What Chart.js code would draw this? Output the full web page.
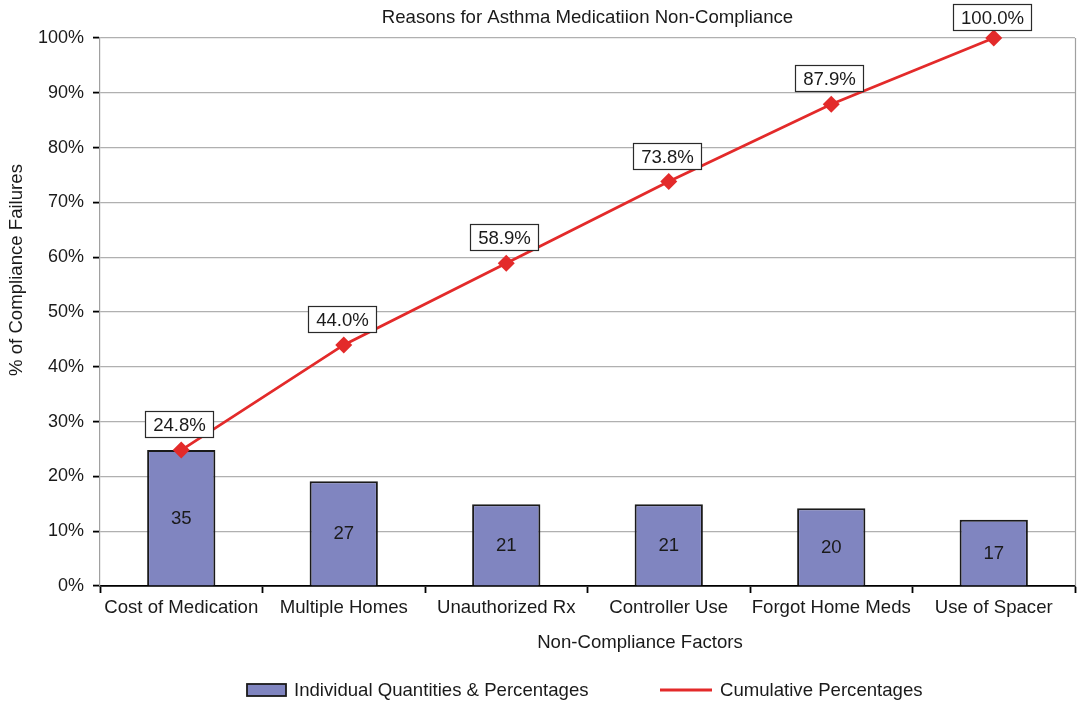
<!DOCTYPE html>
<html>
<head>
<meta charset="utf-8">
<script src="https://cdn.jsdelivr.net/npm/chart.js@4/dist/chart.umd.min.js"></script>
<style>
  html, body { margin: 0; padding: 0; background: #fff; }
  #wrap { width: 1080px; height: 704px; }
</style>
</head>
<body>
<div id="wrap"><canvas id="c" width="1080" height="704"></canvas></div>
<script>
const chartTitle = 'Reasons for Asthma Medicatiion Non-Compliance';
const categories = ['Cost of Medication', 'Multiple Homes', 'Unauthorized Rx', 'Controller Use', 'Forgot Home Meds', 'Use of Spacer'];
const counts = [35, 27, 21, 21, 20, 17];
const sharePct = [24.8, 19.1, 14.9, 14.9, 14.2, 12.1];
const cumulativePct = [24.8, 44.0, 58.9, 73.8, 87.9, 100.0];
const yTickValues = [0, 10, 20, 30, 40, 50, 60, 70, 80, 90, 100];
const xAxisTitle = 'Non-Compliance Factors';
const yAxisTitle = '% of Compliance Failures';
const barLegend = 'Individual Quantities & Percentages';
const lineLegend = 'Cumulative Percentages';

const FONT = '"Liberation Sans", Arial, Helvetica, sans-serif';
const SIZE = 18.6;
const TEXT = '#1a1a1a';
const BAR_FILL = '#8085c0';
const BAR_EDGE = '#1a1a1a';
const RED = '#e32a2a';

// Text, value boxes, right frame line and legend drawn on top of the chart
const decorations = {
  id: 'decorations',
  afterDatasetsDraw(chart) {
    const ctx = chart.ctx;
    const area = chart.chartArea;
    ctx.save();

    // right-hand frame of the plot area
    ctx.strokeStyle = '#a0a0a0';
    ctx.lineWidth = 1.2;
    ctx.beginPath();
    ctx.moveTo(area.right + 0.5, area.top);
    ctx.lineTo(area.right + 0.5, area.bottom);
    ctx.stroke();

    // counts inside the bars
    ctx.fillStyle = TEXT;
    ctx.font = SIZE + 'px ' + FONT;
    ctx.textAlign = 'center';
    ctx.textBaseline = 'middle';
    chart.getDatasetMeta(0).data.forEach((bar, i) => {
      const mid = (bar.y + bar.base) / 2;
      ctx.fillText(String(counts[i]), bar.x, mid + 1);
    });

    // boxed cumulative values above the line points
    chart.getDatasetMeta(1).data.forEach((pt, i) => {
      const label = cumulativePct[i].toFixed(1) + '%';
      const w = Math.round(ctx.measureText(label).width + 15);
      const h = 26;
      const cx = Math.round(pt.x - 2);
      const bottom = Math.max(Math.round(pt.y - 13), h + 4);
      const left = Math.round(cx - w / 2);
      ctx.fillStyle = '#ffffff';
      ctx.fillRect(left, bottom - h, w, h);
      ctx.strokeStyle = '#2a2a2a';
      ctx.lineWidth = 1.2;
      ctx.strokeRect(left + 0.5, bottom - h + 0.5, w, h);
      ctx.fillStyle = TEXT;
      ctx.fillText(label, cx + 0.5, bottom - h / 2 + 1.5);
    });

    // chart title
    ctx.font = SIZE + 'px ' + FONT;
    ctx.fillText(chartTitle, (area.left + area.right) / 2, 18);

    // axis titles
    ctx.fillText(xAxisTitle, 640, 643);
    ctx.save();
    ctx.translate(17, 270);
    ctx.rotate(-Math.PI / 2);
    ctx.fillText(yAxisTitle, 0, 0);
    ctx.restore();

    // legend
    const ly = 690;
    ctx.fillStyle = BAR_FILL;
    ctx.fillRect(247, ly - 6, 39, 12);
    ctx.strokeStyle = BAR_EDGE;
    ctx.lineWidth = 1.8;
    ctx.strokeRect(247, ly - 6, 39, 12);
    ctx.fillStyle = TEXT;
    ctx.textAlign = 'left';
    ctx.fillText(barLegend, 294, ly + 1);
    ctx.strokeStyle = RED;
    ctx.lineWidth = 2.8;
    ctx.beginPath();
    ctx.moveTo(660, ly);
    ctx.lineTo(712, ly);
    ctx.stroke();
    ctx.fillText(lineLegend, 720, ly + 1);

    ctx.restore();
  }
};

new Chart(document.getElementById('c'), {
  type: 'bar',
  data: {
    labels: categories,
    datasets: [
      {
        type: 'bar',
        label: barLegend,
        data: sharePct,
        backgroundColor: BAR_FILL,
        borderColor: BAR_EDGE,
        borderWidth: 2,
        barPercentage: 0.42,
        categoryPercentage: 1.0,
        order: 2
      },
      {
        type: 'line',
        label: lineLegend,
        data: cumulativePct,
        borderColor: RED,
        borderWidth: 2.8,
        backgroundColor: RED,
        pointStyle: 'rectRot',
        pointRadius: 8.5,
        pointBorderWidth: 0,
        pointBackgroundColor: RED,
        tension: 0,
        clip: false,
        order: 1
      }
    ]
  },
  options: {
    responsive: false,
    animation: false,
    layout: { autoPadding: false, padding: { top: 38, right: 5, left: 0, bottom: 0 } },
    plugins: {
      legend: { display: false },
      title: { display: false },
      tooltip: { enabled: false }
    },
    scales: {
      x: {
        offset: true,
        grid: {
          offset: true,
          drawOnChartArea: false,
          drawTicks: true,
          tickLength: 7,
          tickColor: '#000000',
          tickWidth: 1.8
        },
        border: { color: '#000000', width: 1.8 },
        ticks: {
          color: TEXT,
          font: { family: FONT, size: SIZE },
          padding: 4,
          maxRotation: 0,
          autoSkip: false
        },
        afterFit(scale) {
          scale.height = 118;
          scale.paddingLeft = 0;
          scale.paddingRight = 0;
        }
      },
      y: {
        min: 0,
        max: 100,
        afterBuildTicks(scale) {
          scale.ticks = yTickValues.map(v => ({ value: v }));
        },
        grid: {
          color: '#b0b0b0',
          lineWidth: 1.2,
          tickLength: 7,
          tickColor: '#000000',
          tickWidth: 1.8
        },
        border: { color: '#a0a0a0', width: 1.2 },
        ticks: {
          color: TEXT,
          font: { family: FONT, size: 18 },
          padding: 9,
          callback: v => v + '%'
        },
        afterFit(scale) {
          scale.width = 100;
          scale.paddingTop = 0;
          scale.paddingBottom = 0;
        }
      }
    }
  },
  plugins: [decorations]
});
</script>
</body>
</html>
